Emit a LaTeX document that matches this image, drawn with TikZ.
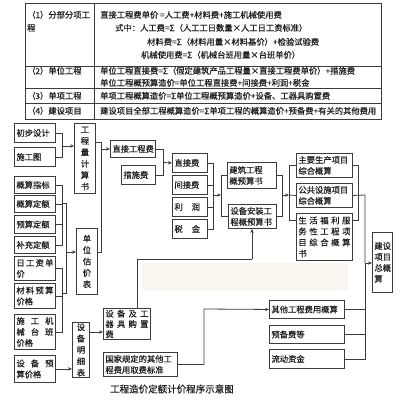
\documentclass[tikz,border=0pt]{standalone}
\usepackage{fontspec}
\newfontfamily\cjk[FakeBold=0.4]{Noto Sans CJK SC}
\usetikzlibrary{arrows.meta}
\definecolor{ln}{RGB}{60,60,60}
\definecolor{tx}{RGB}{30,30,30}
\definecolor{wm}{RGB}{249,246,239}
\newcommand\gapx{\hskip 0pt plus 1filll\relax}
\tikzset{
 bx/.style={draw=ln, line width=0.9pt, rectangle, inner xsep=2pt, inner ysep=0.5pt, font=\cjk\fontsize{8.3}{11}\selectfont, text=tx, align=left},
 vt/.style={align=center, font=\cjk\fontsize{8.3}{11.4}\selectfont},
 cn/.style={draw=ln, line width=0.8pt},
 ar/.style={cn, -{Stealth[length=4pt,width=3.4pt]}},
 tt/.style={font=\cjk\fontsize{8.3}{10}\selectfont, text=tx, inner sep=0pt, anchor=base west},
}
\newcommand\boxat[7][]{%
 \pgfmathsetmacro\bw{#5-#3}\pgfmathsetmacro\bh{#6-#4}\pgfmathsetmacro\tw{#5-#3-4}%
 \node[bx, minimum width=\bw pt, minimum height=\bh pt, text width=\tw pt, anchor=north west, #1] (#2) at (#3,#4) {#7};}
\begin{document}
\begin{tikzpicture}[x=1pt,y=-1pt]
\useasboundingbox (0,0) rectangle (400,400);
\fill[white] (0,0) rectangle (400,400);
\fill[wm] (142,263) rectangle (348,290);
% table
\draw[ln, line width=0.9pt] (25,3) rectangle (381,119);
\draw[ln, line width=0.9pt] (25,66) -- (381,66) (25,88.5) -- (381,88.5) (25,103) -- (381,103) (94,3) -- (94,119);
\node[tt] (r1a) at (27,18) {（1）分部分项工};
\node[tt] (r1b) at (27,31) {程};
\node[tt] (r1c) at (100,18) {直接工程费单价 =人工费+材料费+施工机械使用费};
\node[tt] (r1d) at (115,31) {式中：人工费=Σ（人工工日数量×人工日工资标准）};
\node[tt] (r1e) at (147,45) {材料费=Σ（材料用量×材料基价）+检验试验费};
\node[tt] (r1f) at (141,58) {机械使用费=Σ（机械台班用量×台班单价）};
\node[tt] (r2a) at (27,74) {（2）单位工程};
\node[tt] (r2b) at (100,74) {单位工程直接费=Σ（假定建筑产品工程量×直接工程费单价）+措施费};
\node[tt] (r2c) at (100,86) {单位工程概预算造价=单位工程直接费+间接费+利润+税金};
\node[tt] (r3a) at (27,99) {（3）单项工程};
\node[tt] (r3b) at (100,99) {单项工程概算造价=Σ单位工程概预算造价+设备、工器具购置费};
\node[tt] (r4a) at (27,114) {（4）建设项目};
\node[tt] (r4b) at (100,114) {建设项目全部工程概算造价=Σ单项工程的概算造价+预备费+有关的其他费用};
% boxes
\boxat{n1}{14}{123}{55}{142}{初步设计}
\boxat{n2}{14}{147}{55}{166}{施工图}
\boxat[vt]{gcl}{74}{123}{95}{193}{工\\程\\量\\计\\算\\书}
\boxat{a1}{14}{176}{55}{193}{概算指标}
\boxat{a2}{14}{195}{55}{212}{概算定额}
\boxat{a3}{14}{215}{55}{233}{预算定额}
\boxat{a4}{14}{236}{55}{253}{补充定额}
\boxat{b1}{14}{256}{55}{280}{日\gapx 工\gapx 资\gapx 单\\价}
\boxat{b2}{14}{283}{55}{308}{材\gapx 料\gapx 预\gapx 算\\价格}
\boxat{b3}{14}{314}{55}{349}{施\gapx 工\gapx 机\\械\gapx 台\gapx 班\\价格}
\boxat{sy}{14}{355}{55}{382}{设\gapx 备\gapx 预\\算价格}
\boxat[vt]{dw}{76}{228}{97}{294}{单\\位\\估\\价\\表}
\boxat[vt]{mx}{72}{322}{89}{377}{设\\备\\明\\细\\表}
\boxat[font=\cjk\fontsize{8.3}{10.3}\selectfont]{sbg}{103}{308}{150}{339}{设\gapx 备\gapx 及\gapx 工\\器\gapx 具\gapx 购\gapx 置\\费}
\boxat{gj}{103}{352}{177}{376}{国家规定的其他工\\程费用取费标准}
\boxat{zj}{110}{140}{155}{157}{直接工程费}
\boxat{cs}{121}{165}{155}{184}{措施费}
\boxat{zjf}{172}{153}{207}{172}{直接费}
\boxat{jjf}{172}{175}{207}{194}{间接费}
\boxat{lr}{172}{197}{207}{216}{利\hspace{9pt}润}
\boxat{sj}{172}{219}{207}{238}{税\hspace{9pt}金}
\boxat{jz}{227}{162}{276}{188}{建筑工程\\概预算书}
\boxat{sb}{228}{204}{276}{228}{设备安装工\\程概预算书}
\boxat{zy}{296}{153}{352}{177}{主要生产项目\\综合概算}
\boxat{gg}{296}{183}{352}{207}{公共设施项目\\综合概算}
\boxat{sh}{296}{213}{352}{260}{生\gapx 活\gapx 福\gapx 利\gapx 服\\务\gapx 性\gapx 工\gapx 程\gapx 项\\目\gapx 综\gapx 合\gapx 概\gapx 算\\书}
\boxat{qt}{269}{300}{344}{318}{其他工程费用概算}
\boxat{yb}{269}{325}{344}{343}{预备费等}
\boxat{ld}{269}{349}{344}{368}{流动资金}
\boxat{zg}{372}{232}{392}{292}{建设\\项目\\总概\\算}
% connectors
\coordinate (j1) at (62,146);
\draw[cn] (n1.east) -| (j1);
\draw[cn] (n2.east) -| (j1);
\draw[ar] (j1) -- (j1 -| gcl.west);
\coordinate (jA) at (62,203); \coordinate (kA) at (66,203);
\coordinate (jB) at (62,293); \coordinate (kB) at (66,293);
\coordinate (kM) at (66,252);
\foreach \nm in {a1,a2,a3,a4} \draw[cn] (\nm.east) -| (jA);
\foreach \nm in {b1,b2,b3} \draw[cn] (\nm.east) -| (jB);
\draw[cn] (jA) -- (kA) -- (kB) -- (jB);
\draw[ar] (kM) -- (kM -| dw.west);
\coordinate (u1) at (101,142); \coordinate (u2) at (101,252);
\draw[cn] (u1 -| gcl.east) -- (u1) -- (u2) -- (u2 -| dw.east);
\draw[ar] (zj.west -| u1) -- (zj.west);
\coordinate (j4) at (163,162.5);
\draw[cn] (zj.east) -| (j4);
\draw[cn] (cs.east) -| (j4);
\draw[ar] (j4) -- (zjf.west);
\coordinate (j5) at (213,195); \coordinate (k5) at (221,195);
\foreach \nm in {zjf,jjf,lr,sj} \draw[cn] (\nm.east) -| (j5);
\draw[ar] (j5) -- (k5);
\draw[cn] (jz.west) -| (k5);
\draw[cn] (sb.west) -| (k5);
\coordinate (j6) at (282,195); \coordinate (k6) at (289,195);
\draw[cn] (jz.east) -| (j6);
\draw[cn] (sb.east) -| (j6);
\draw[ar] (j6) -- (k6);
\draw[cn] (k6) -- (gg.west);
\draw[cn] (zy.west) -| (k6);
\coordinate (k6b) at (289,220);
\draw[cn] (k6b -| sh.west) -- (k6b) -- (k6);
\coordinate (c7) at (358,220);
\draw[cn] (zy.east) -| (c7) -- (c7 -| sh.east);
\coordinate (c7b) at (365,195); \coordinate (c7c) at (365,263);
\draw[cn] (gg.east) -- (c7b) -- (c7c);
\draw[cn] (qt.east) -| (c7c);
\draw[cn] (yb.east) -| (c7c);
\draw[cn] (ld.east) -| (c7c);
\draw[ar] (c7c) -- (c7c -| zg.west);
\coordinate (c8a) at (252,259); \coordinate (c8b) at (137,259);
\draw[cn] (c8b |- sbg.north) -- (c8b) -- (c8a);
\draw[ar] (c8a) -- (c8a |- sb.south);
\draw[ar] (sy.east) -- (sy.east -| mx.west);
\coordinate (c10) at (95,332);
\draw[ar] (c10 -| mx.east) -- (c10 -| sbg.west);
\coordinate (c11) at (204,309);
\draw[ar] (gj.east) -| (c11) -- (qt.west);
% caption
\node[font=\cjk\fontsize{9.5}{11}\selectfont, text=tx] (cap) at (172,389) {工程造价定额计价程序示意图};
\end{tikzpicture}
\end{document}
